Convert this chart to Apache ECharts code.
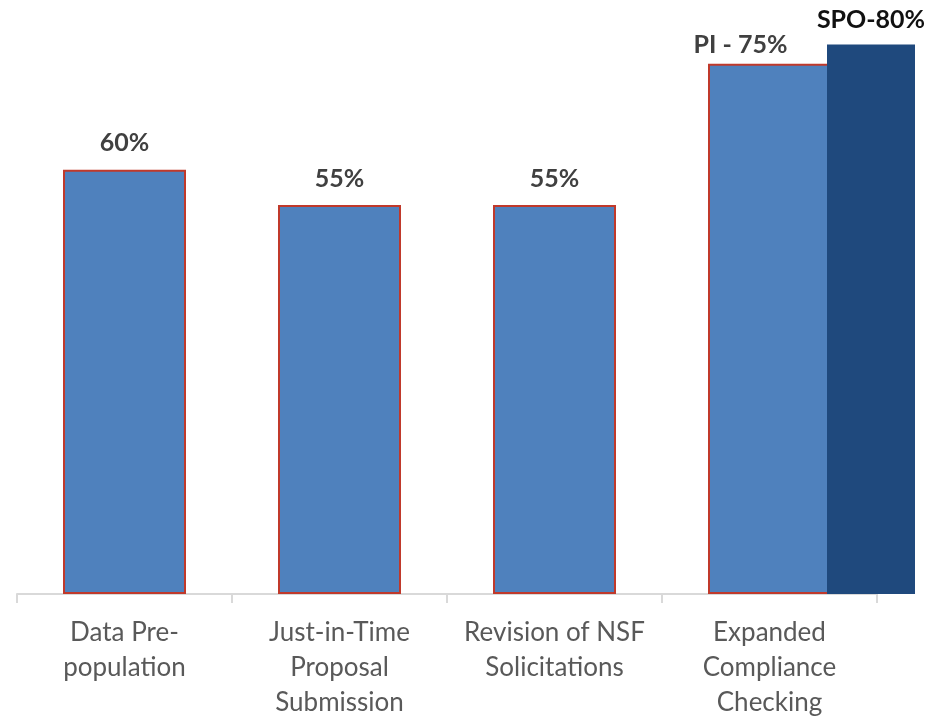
<!DOCTYPE html>
<html>
<head>
<meta charset="utf-8">
<script src="https://cdn.jsdelivr.net/npm/echarts@6/dist/echarts.min.js"></script>
<style>html,body{margin:0;padding:0;background:#fff;}#c{width:945px;height:717px;}</style>
</head>
<body>
<div id="c"></div>
<script>
const categories = ['Data Pre-\npopulation', 'Just-in-Time\nProposal\nSubmission', 'Revision of NSF\nSolicitations', 'Expanded\nCompliance\nChecking'];
const piValues = [60, 55, 55, 75];
const piLabels = ['60%', '55%', '55%', 'PI - 75%'];
const spoValues = ['-', '-', '-', 77.7];
const spoLabels = ['', '', '', 'SPO-80%'];

const labelStyle = {
  show: true, position: 'top', distance: 14,
  fontFamily: 'Lato', fontWeight: 'bold', fontSize: 25, color: '#404040'
};

const chart = echarts.init(document.getElementById('c'), null, {renderer: 'canvas'});
chart.setOption({
  animation: false,
  grid: [
    {left: 17, width: 860, top: 0, bottom: 123, containLabel: false, outerBoundsMode: 'none'},
    {left: 118.5, width: 860, top: 0, bottom: 123, containLabel: false, outerBoundsMode: 'none'}
  ],
  xAxis: [{
    type: 'category', gridIndex: 0, data: categories,
    axisLine: {show: true, lineStyle: {color: '#d9d9d9', width: 2}},
    axisTick: {show: true, length: 9, alignWithLabel: false, lineStyle: {color: '#d9d9d9', width: 2}},
    axisLabel: {fontFamily: 'Lato', fontSize: 26, lineHeight: 35, color: '#595959', margin: 21, interval: 0}
  }, {
    type: 'category', gridIndex: 1, data: categories, show: false
  }],
  yAxis: [
    {type: 'value', gridIndex: 0, min: 0, max: 84, show: false},
    {type: 'value', gridIndex: 1, min: 0, max: 84, show: false}
  ],
  series: [{
    type: 'bar', xAxisIndex: 0, yAxisIndex: 0, barWidth: 123,
    itemStyle: {color: '#4f81bd', borderColor: '#c0392b', borderWidth: 2},
    data: piValues.map((v, i) => ({
      value: v,
      label: Object.assign({}, labelStyle, {formatter: piLabels[i]},
        i === 3 ? {offset: [-29, 0], distance: 6} : {})
    }))
  }, {
    type: 'bar', xAxisIndex: 1, yAxisIndex: 1, barWidth: 88, z: 3,
    itemStyle: {color: '#1f497d'},
    data: spoValues.map((v, i) => ({
      value: v,
      label: Object.assign({}, labelStyle, {formatter: spoLabels[i], distance: 12, color: '#111'})
    }))
  }]
});
</script>
</body>
</html>
